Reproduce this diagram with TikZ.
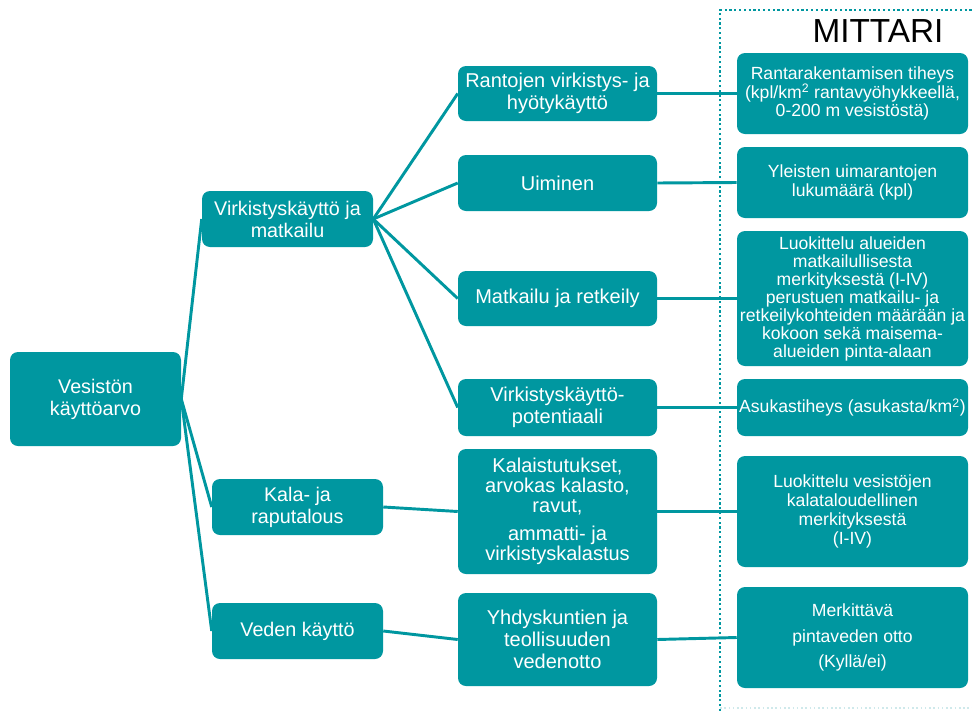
\documentclass[tikz,border=0pt]{standalone}
\usepackage{fontspec}
\setmainfont{Liberation Sans}
\usepackage{tikz}
\definecolor{teal1}{HTML}{0097A0}
\definecolor{tealfaint}{HTML}{CFE9EB}
\tikzstyle{box}=[fill=teal1, text=white, rounded corners=6pt, inner sep=0pt, align=center]
\tikzstyle{lvl0}=[box, minimum width=128.25pt, minimum height=70.5pt, font=\fontsize{14.8}{16.5}\selectfont]
\tikzstyle{lvl1}=[box, minimum width=128.25pt, minimum height=42pt, font=\fontsize{14.8}{16.5}\selectfont]
\tikzstyle{lvl2}=[box, minimum width=149.25pt, font=\fontsize{15}{16.5}\selectfont]
\tikzstyle{mbox}=[box, minimum width=173.25pt, font=\fontsize{13.2}{14.2}\selectfont]
\tikzstyle{link}=[draw=teal1, line width=2.2pt]

\begin{document}
\begin{tikzpicture}[x=0.75pt, y=-0.75pt]
    \useasboundingbox (0,0) rectangle (972,711);
    % frame of the indicator column
    \draw[teal1, dotted, line width=1.6pt] (720,711) -- (720,10) -- (972,10);
    \draw[tealfaint, dotted, line width=1.2pt] (720,708) -- (972,708);
    \node[font=\fontsize{25}{28}\selectfont] (head) at (878,31) {MITTARI};

    \node[lvl0] (V) at (95.5,399) {Vesistön\\käyttöarvo};

    \node[lvl1] (K1) at (287.5,219) {Virkistyskäyttö ja\\matkailu};
    \node[lvl1] (K2) at (297.5,507) {Kala-  ja\\raputalous};
    \node[lvl1] (K3) at (297.5,631) {Veden käyttö};

    \node[lvl2, minimum height=41.25pt] (T1) at (557.5,93.5) {Rantojen virkistys- ja\\hyötykäyttö};
    \node[lvl2, minimum height=42pt] (T2) at (557.5,183) {Uiminen};
    \node[lvl2, minimum height=41.25pt] (T3) at (557.5,298.5) {Matkailu ja retkeily};
    \node[lvl2, minimum height=42.75pt] (T4) at (557.5,407.5) {Virkistyskäyttö-\\potentiaali};
    \node[lvl2, minimum height=93.75pt, font=\fontsize{15}{15}\selectfont] (T5) at (557.5,511.5) {Kalaistutukset,\\arvokas kalasto,\\ravut,\\[6pt]ammatti- ja\\virkistyskalastus};
    \node[lvl2, minimum height=69.75pt] (T6) at (557.5,639.5) {Yhdyskuntien ja\\teollisuuden\\vedenotto};

    \node[mbox, minimum height=60.75pt] (M1) at (852.5,93.5) {Rantarakentamisen tiheys\\(kpl/km\textsuperscript{2} rantavyöhykkeellä,\\0-200 m vesistöstä)};
    \node[mbox, minimum height=53.25pt] (M2) at (852.5,182.5) {Yleisten uimarantojen\\lukumäärä (kpl)};
    \node[mbox, minimum height=101.25pt, font=\fontsize{13.2}{13.5}\selectfont] (M3) at (852.5,298.5) {Luokittelu alueiden\\matkailullisesta\\merkityksestä (I-IV)\\perustuen matkailu- ja\\retkeilykohteiden määrään ja\\kokoon sekä maisema-\\alueiden pinta-alaan};
    \node[mbox, minimum height=42.75pt] (M4) at (852.5,407.5) {Asukastiheys (asukasta/km\textsuperscript{2})};
    \node[mbox, minimum height=83.25pt] (M5) at (852.5,511.5) {Luokittelu vesistöjen\\kalataloudellinen\\merkityksestä\\(I-IV)};
    \node[mbox, minimum height=75.75pt] (M6) at (852.5,637.5) {Merkittävä\\[5pt]pintaveden otto\\[5pt](Kyllä/ei)};

    \draw[link] (V.east) -- (K1.west);
    \draw[link] (V.east) -- (K2.west);
    \draw[link] (V.east) -- (K3.west);
    \foreach \t in {T1,T2,T3,T4}
        \draw[link] (K1.east) -- (\t.west);
    \draw[link] (K2.east) -- (T5.west);
    \draw[link] (K3.east) -- (T6.west);
    \foreach \i in {1,...,6}
        \draw[link] (T\i.east) -- (M\i.west);
\end{tikzpicture}
\end{document}
